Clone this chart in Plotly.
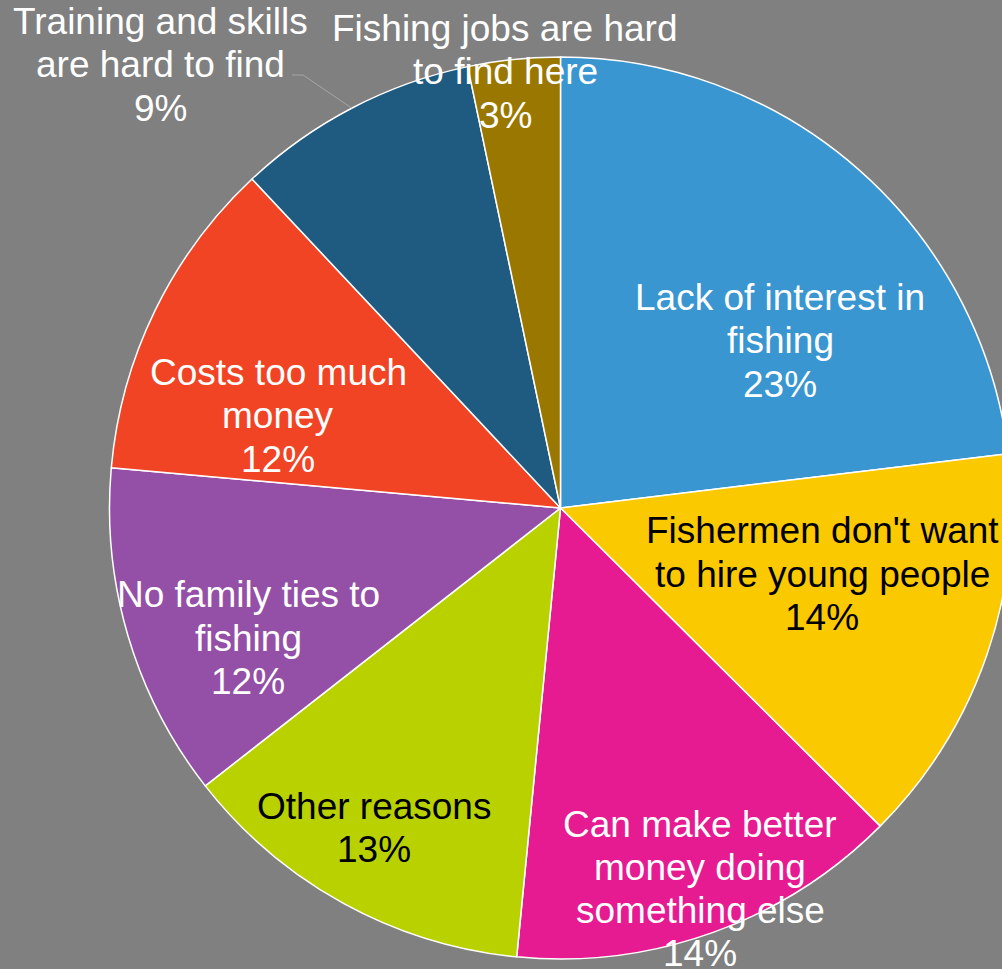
import math
import plotly.graph_objects as go

# Reasons young people are not entering fishing (share of responses, %)
labels = [
    "Lack of interest in fishing",
    "Fishermen don't want to hire young people",
    "Can make better money doing something else",
    "Other reasons",
    "No family ties to fishing",
    "Costs too much money",
    "Training and skills are hard to find",
    "Fishing jobs are hard to find here",
]
values = [23.1, 14.4, 14.1, 12.9, 12.0, 11.6, 8.7, 3.3]
label_lines = [
    ["Lack of interest in", "fishing"],
    ["Fishermen don't want", "to hire young people"],
    ["Can make better", "money doing", "something else"],
    ["Other reasons"],
    ["No family ties to", "fishing"],
    ["Costs too much", "money"],
    ["Training and skills", "are hard to find"],
    ["Fishing jobs are hard", "to find here"],
]

# Styling
colors = ["#3996D0", "#FBC900", "#E61A91", "#BAD100",
          "#9450A6", "#F14425", "#1F5B80", "#9A7800"]
text_colors = ["white", "black", "white", "black",
               "white", "white", "white", "white"]
# label block centres in pixels (x, y)
label_centres = [(780, 341), (822, 574), (700, 889), (374, 828),
                 (248, 638), (278, 416), (160, 65), (505, 72)]

W, H = 1012, 969
CX, CY, R = 560, 508, 451
LINE_H = 43.3
FONT = "Liberation Sans, Arial, sans-serif"
FONT_SIZE = 37

fig = go.Figure(go.Pie(
    labels=labels,
    values=values,
    sort=False,
    direction="clockwise",
    rotation=0,
    marker=dict(colors=colors, line=dict(color="white", width=1.5)),
    textinfo="none",
    hoverinfo="label+percent",
    showlegend=False,
    domain=dict(x=[(CX - R) / W, 1.0],
                y=[(H - (CY + R)) / H, (H - (CY - R)) / H]),
))

annotations = []
total = sum(values)
for lines, v, (px, py), col in zip(label_lines, values, label_centres, text_colors):
    all_lines = lines + [f"{round(100 * v / total)}%"]
    n = len(all_lines)
    for i, line in enumerate(all_lines):
        ly = py + (i - (n - 1) / 2) * LINE_H
        annotations.append(dict(
            x=px / W, y=1 - ly / H, xref="paper", yref="paper",
            text=line, showarrow=False, xanchor="center", yanchor="middle",
            font=dict(family=FONT, size=FONT_SIZE, color=col),
        ))

# Leader line from the outside label to the edge of the "Training" slice
cum = 0
for v, name in zip(values, labels):
    if name.startswith("Training"):
        mid = (cum + v / 2) / total * 2 * math.pi
        break
    cum += v
ex = CX + R * math.sin(mid)
ey = CY - R * math.cos(mid)
pts = [(292, 75), (303, 75), (ex, ey)]
path = "M " + " L ".join(f"{x / W},{1 - y / H}" for x, y in pts)
shapes = [dict(type="path", path=path, xref="paper", yref="paper",
               line=dict(color="#A6A6A6", width=1))]

fig.update_layout(
    width=W, height=H,
    margin=dict(l=0, r=0, t=0, b=0),
    paper_bgcolor="#808080",
    plot_bgcolor="#808080",
    annotations=annotations,
    shapes=shapes,
)

fig.write_html(
    "out.html",
    post_script="document.documentElement.style.overflow='hidden';"
                "document.body.style.overflow='hidden';",
)
